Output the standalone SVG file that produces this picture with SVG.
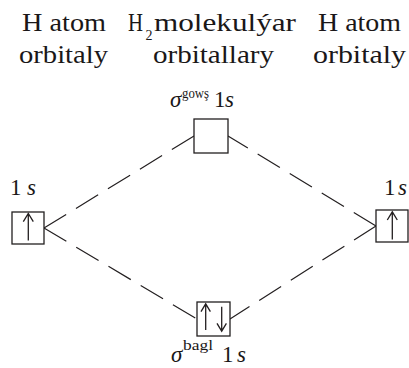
<svg xmlns="http://www.w3.org/2000/svg" width="409" height="368" viewBox="0 0 409 368">
<style>
text{font-family:"Liberation Serif","Times New Roman",serif;fill:#1a1718}
.h{font-size:26px}
.lbl{font-size:23px}
.sup{font-size:15px}
.sub{font-size:15px}
.it{font-style:italic}
.box{fill:#fff;stroke:#231f20;stroke-width:1.3}
.arr{fill:none;stroke:#231f20;stroke-width:1.3;stroke-linecap:butt}
.dash{fill:none;stroke:#231f20;stroke-width:1.2;stroke-dasharray:26 11.5}
</style>
<rect width="409" height="368" fill="#fff"/>
<g id="headers">
<text class="h" x="22" y="31" textLength="84" lengthAdjust="spacingAndGlyphs">H atom</text>
<text class="h" x="19" y="63" textLength="89" lengthAdjust="spacingAndGlyphs">orbitaly</text>
<text class="h" x="128" y="31" textLength="15" lengthAdjust="spacingAndGlyphs">H</text>
<text class="sub" x="145.5" y="40" textLength="7" lengthAdjust="spacingAndGlyphs">2</text>
<text class="h" x="154" y="31" textLength="142" lengthAdjust="spacingAndGlyphs">molekulýar</text>
<text class="h" x="153" y="63" textLength="121" lengthAdjust="spacingAndGlyphs">orbitallary</text>
<text class="h" x="318" y="31" textLength="83" lengthAdjust="spacingAndGlyphs">H atom</text>
<text class="h" x="313" y="63" textLength="93" lengthAdjust="spacingAndGlyphs">orbitaly</text>
</g>
<g id="connectors">
<line class="dash" x1="44" y1="228" x2="194" y2="136"/>
<line class="dash" x1="44" y1="228" x2="197" y2="319"/>
<line class="dash" x1="376" y1="226" x2="228" y2="136"/>
<line class="dash" x1="376" y1="226" x2="230" y2="319"/>
</g>
<g id="sigma-star">
<rect class="box" x="194" y="119" width="34" height="34"/>
<text class="lbl it" x="170" y="107">σ</text>
<text class="sup" x="182" y="98" textLength="27" lengthAdjust="spacingAndGlyphs">gowş</text>
<text class="lbl" x="214" y="107" textLength="20">1<tspan class="it">s</tspan></text>
</g>
<g id="h-left">
<rect class="box" x="12" y="212" width="32" height="32"/>
<path class="arr" d="M28.3 240.5V214M23.3 221.7L28.3 213.5L33.3 221.7"/>
<text class="lbl" x="10" y="195" textLength="26">1<tspan class="it">s</tspan></text>
</g>
<g id="h-right">
<rect class="box" x="376" y="210" width="32" height="32"/>
<path class="arr" d="M392.3 239.5V212.5M387.3 220L392.3 211.8L397.3 220"/>
<text class="lbl" x="384" y="195" textLength="23">1<tspan class="it">s</tspan></text>
</g>
<g id="sigma-bond">
<rect class="box" x="197" y="302" width="33" height="34"/>
<path class="arr" d="M205.7 330V304.5M201 311.7L205.7 303.8L210.4 311.7"/>
<path class="arr" d="M221.7 306.7V330.5M217 323.3L221.7 331.2L226.4 323.3"/>
<text class="lbl it" x="171" y="362">σ</text>
<text class="sup" x="183" y="350" textLength="30" lengthAdjust="spacingAndGlyphs">bagl</text>
<text class="lbl" x="222" y="362" textLength="24">1<tspan class="it">s</tspan></text>
</g>
</svg>
